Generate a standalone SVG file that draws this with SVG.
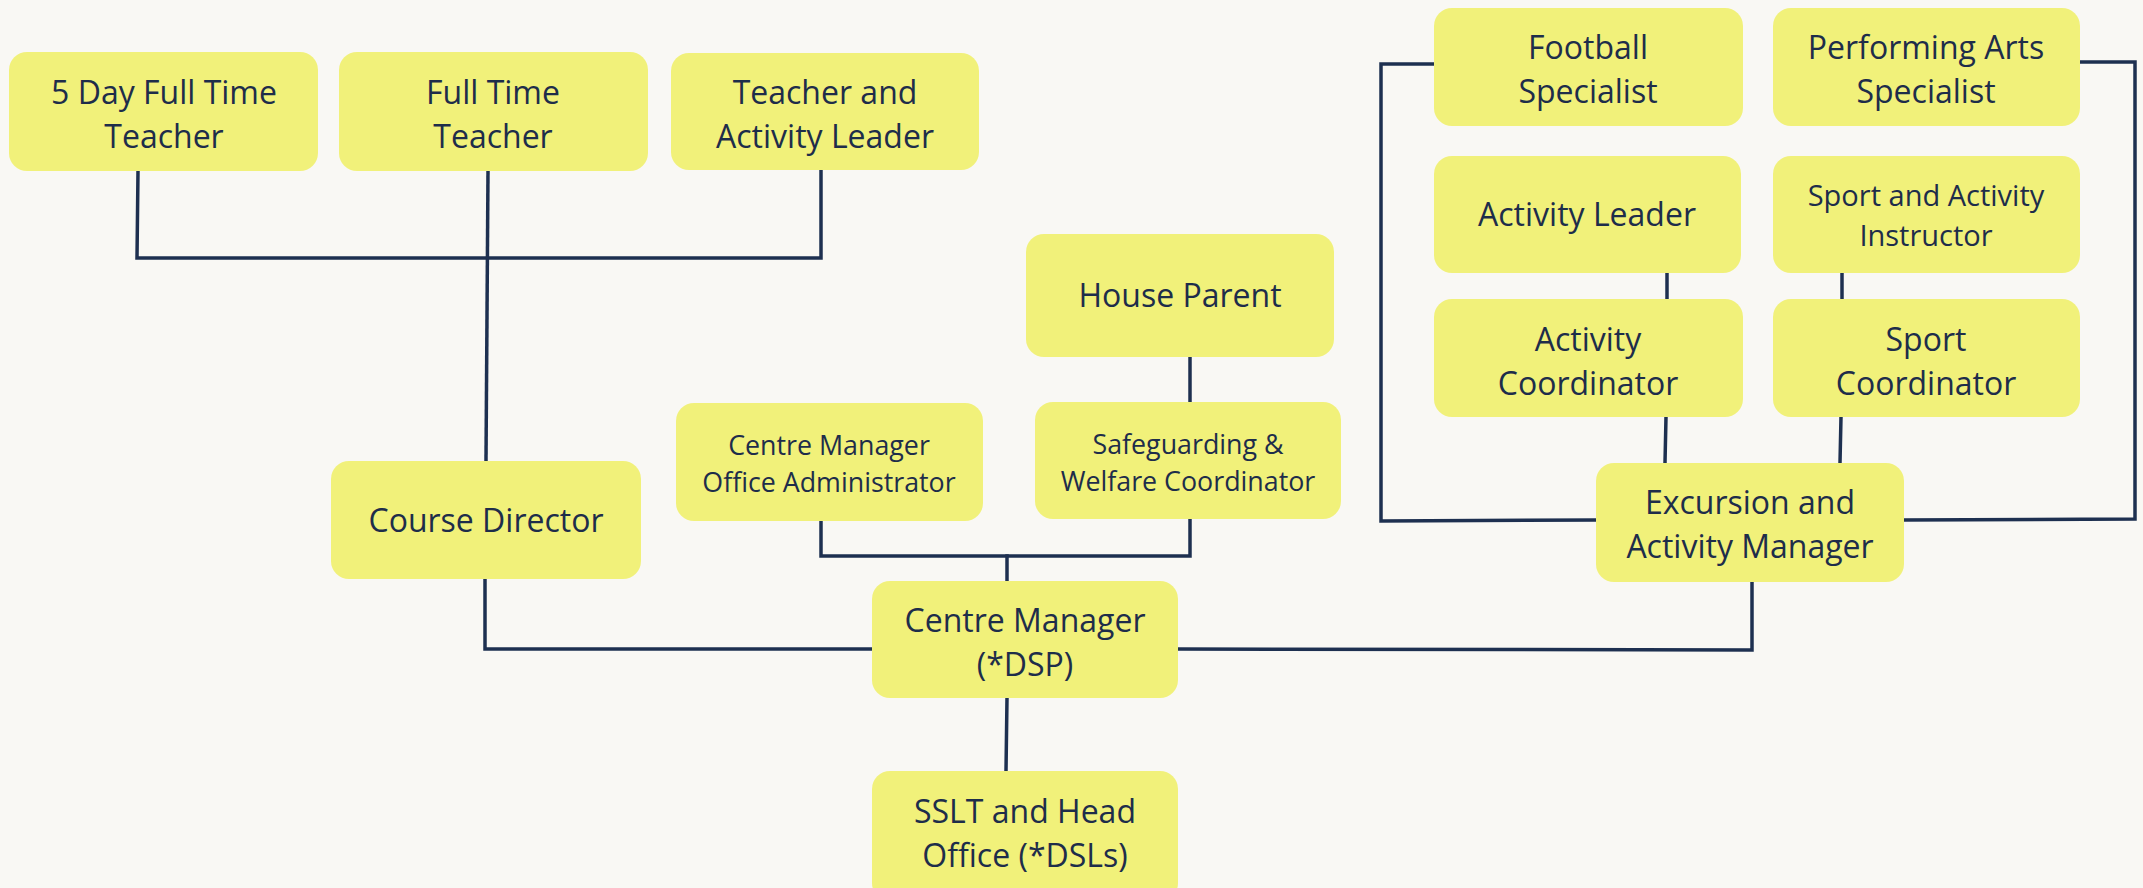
<svg xmlns="http://www.w3.org/2000/svg" width="2143" height="888" viewBox="0 0 2143 888">
<style>
.bg{fill:#f9f8f4}
.box{fill:#f1f17a}
.t{font-family:"Open Sans","Noto Sans","Liberation Sans",sans-serif;font-size:32px;fill:#1e2d4a;text-anchor:middle}
.s{font-size:26.8px}
.m{font-size:29px}
.c{fill:none;stroke:#1e3050;stroke-width:3.5;stroke-linecap:square}
</style>
<rect class="bg" x="0" y="0" width="2143" height="888"/>
<g id="connectors">
<polyline class="c" points="138,171 137,258 821,258 821,170"/>
<polyline class="c" points="488,171 486,461"/>
<polyline class="c" points="485,579 485,649 872,649"/>
<polyline class="c" points="1178,649 1752,650 1752,582"/>
<polyline class="c" points="1007,581 1007,556"/>
<polyline class="c" points="821,521 821,556 1190,556 1190,519"/>
<polyline class="c" points="1190,357 1190,402"/>
<polyline class="c" points="1007,698 1006,771"/>
<polyline class="c" points="1667,273 1667,299"/>
<polyline class="c" points="1666,417 1665,463"/>
<polyline class="c" points="1842,273 1842,299"/>
<polyline class="c" points="1841,417 1840,463"/>
<polyline class="c" points="1434,64 1381,64 1381,521 1596,520"/>
<polyline class="c" points="2080,62 2135,62 2135,519 1904,520"/>
</g>
<g id="n1"><rect class="box" x="9" y="52" width="309" height="119" rx="18"/><text class="t" x="164" y="104">5 Day Full Time</text><text class="t" x="164" y="148">Teacher</text></g>
<g id="n2"><rect class="box" x="339" y="52" width="309" height="119" rx="18"/><text class="t" x="493" y="104">Full Time</text><text class="t" x="493" y="148">Teacher</text></g>
<g id="n3"><rect class="box" x="671" y="53" width="308" height="117" rx="18"/><text class="t" x="825" y="104">Teacher and</text><text class="t" x="825" y="148">Activity Leader</text></g>
<g id="n4"><rect class="box" x="1434" y="8" width="309" height="118" rx="18"/><text class="t" x="1588" y="59">Football</text><text class="t" x="1588" y="103">Specialist</text></g>
<g id="n5"><rect class="box" x="1773" y="8" width="307" height="118" rx="18"/><text class="t" x="1926" y="59">Performing Arts</text><text class="t" x="1926" y="103">Specialist</text></g>
<g id="n6"><rect class="box" x="1434" y="156" width="307" height="117" rx="18"/><text class="t" x="1587" y="226">Activity Leader</text></g>
<g id="n7"><rect class="box" x="1773" y="156" width="307" height="117" rx="18"/><text class="t m" x="1926" y="206">Sport and Activity</text><text class="t m" x="1926" y="246">Instructor</text></g>
<g id="n8"><rect class="box" x="1026" y="234" width="308" height="123" rx="18"/><text class="t" x="1180" y="307">House Parent</text></g>
<g id="n9"><rect class="box" x="1434" y="299" width="309" height="118" rx="18"/><text class="t" x="1588" y="351">Activity</text><text class="t" x="1588" y="395">Coordinator</text></g>
<g id="n10"><rect class="box" x="1773" y="299" width="307" height="118" rx="18"/><text class="t" x="1926" y="351">Sport</text><text class="t" x="1926" y="395">Coordinator</text></g>
<g id="n11"><rect class="box" x="676" y="403" width="307" height="118" rx="18"/><text class="t s" x="829" y="455">Centre Manager</text><text class="t s" x="829" y="492">Office Administrator</text></g>
<g id="n12"><rect class="box" x="1035" y="402" width="306" height="117" rx="18"/><text class="t s" x="1188" y="454">Safeguarding &amp;</text><text class="t s" x="1188" y="491">Welfare Coordinator</text></g>
<g id="n13"><rect class="box" x="331" y="461" width="310" height="118" rx="18"/><text class="t" x="486" y="532">Course Director</text></g>
<g id="n14"><rect class="box" x="1596" y="463" width="308" height="119" rx="18"/><text class="t" x="1750" y="514">Excursion and</text><text class="t" x="1750" y="558">Activity Manager</text></g>
<g id="n15"><rect class="box" x="872" y="581" width="306" height="117" rx="18"/><text class="t" x="1025" y="632">Centre Manager</text><text class="t" x="1025" y="676">(*DSP)</text></g>
<g id="n16"><rect class="box" x="872" y="771" width="306" height="130" rx="18"/><text class="t" x="1025" y="823">SSLT and Head</text><text class="t" x="1025" y="867">Office (*DSLs)</text></g>
</svg>
